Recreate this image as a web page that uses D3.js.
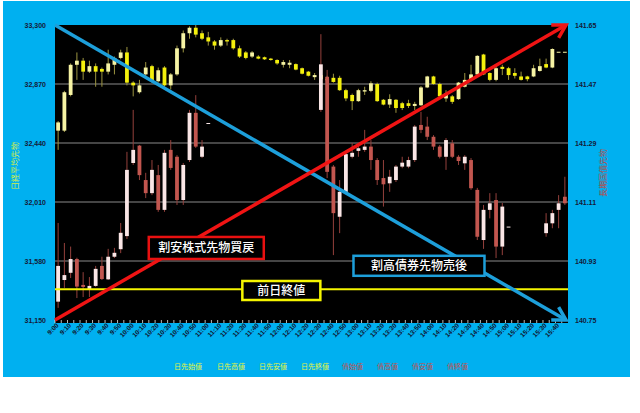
<!DOCTYPE html>
<html>
<head>
<meta charset="utf-8">
<script src="https://cdn.jsdelivr.net/npm/d3@7"></script>
<style>
  body { margin: 0; background: #fff; }
  svg text { font-family: "Liberation Sans", Arial, sans-serif; }
  svg .jp { font-family: "Noto Sans CJK JP", "Noto Sans", sans-serif; }
</style>
</head>
<body>
<div id="chart"></div>
<script>
// 5-minute bars
const times = ["9:00","9:05","9:10","9:15","9:20","9:25","9:30","9:35","9:40","9:45",
  "9:50","9:55","10:00","10:05","10:10","10:15","10:20","10:25","10:30","10:35",
  "10:40","10:45","10:50","10:55","11:00","11:05","11:10","11:15","11:20","11:25",
  "11:30","11:35","11:40","11:45","11:50","11:55","12:00","12:05","12:10","12:15",
  "12:20","12:25","12:30","12:35","12:40","12:45","12:50","12:55","13:00","13:05",
  "13:10","13:15","13:20","13:25","13:30","13:35","13:40","13:45","13:50","13:55",
  "14:00","14:05","14:10","14:15","14:20","14:25","14:30","14:35","14:40","14:45",
  "14:50","14:55","15:00","15:05","15:10","15:15","15:20","15:25","15:30","15:35",
  "15:40","15:45"];

// Nikkei 225 futures (left axis)
const nkOpen = [32530,32530,32790,33010,33040,32960,33000,32980,32960,33010,
  33060,33100,32880,32810,32940,33000,32890,32990,32860,32940,
  33130,33240,33280,33240,33210,33180,33150,33190,33190,33130,
  33100,33070,33070,33065,33055,33045,33010,33010,33015,32985,
  32960,32920,32935,32905,32915,32915,32825,32790,32745,32815,
  32820,32870,32755,32720,32755,32730,32730,32710,32715,32845,
  32925,32870,32765,32780,32760,32850,32900,32940,33085,32950,
  32900,32995,32985,32950,32925,32925,32925,32965,33015,32990,
  33105,33105];
const nkHigh = [32600,32820,33020,33100,33060,33040,33020,32990,33120,33070,
  33120,33140,32890,32900,33030,33010,32990,33000,32950,33150,
  33260,33290,33300,33260,33250,33190,33210,33200,33200,33150,
  33110,33110,33080,33070,33060,33050,33045,33045,33020,32990,
  32965,32950,32955,32930,32945,32930,32835,32800,32835,32850,
  32890,32880,32760,32795,32760,32740,32755,32740,32855,32930,
  32930,32880,32825,32790,32885,32950,33010,33080,33090,32955,
  33015,33010,32995,32985,32960,32930,33010,33055,33055,33130,
  33105,33105];
const nkLow = [32390,32520,32780,32900,32900,32950,32850,32850,32940,32940,
  33050,32860,32780,32800,32920,32880,32880,32850,32830,32930,
  33100,33200,33210,33190,33150,33120,33140,33150,33120,33060,
  33050,33060,33050,33045,33040,33010,32990,32985,32970,32940,
  32925,32900,32885,32870,32880,32820,32745,32680,32740,32790,
  32810,32740,32715,32695,32660,32680,32695,32680,32710,32840,
  32865,32775,32740,32725,32755,32845,32890,32935,32935,32890,
  32890,32935,32900,32910,32895,32890,32920,32960,32985,32985,
  33105,33105];
const nkClose = [32590,32810,33010,33040,32960,33000,32960,32960,33020,33060,
  33100,32880,32860,32860,32990,32890,32970,32860,32940,33130,
  33240,33280,33230,33200,33180,33150,33190,33180,33130,33070,
  33060,33100,33055,33050,33045,33020,33030,33025,32975,32945,
  32930,32935,32905,32900,32885,32825,32765,32745,32825,32825,
  32875,32745,32720,32760,32695,32695,32710,32725,32845,32925,
  32870,32780,32800,32740,32880,32900,32940,33075,32940,32900,
  32985,32980,32935,32930,32900,32905,32985,33000,32990,33125,
  33105,33105];

// JGB futures (right axis), null while the market is closed
const jgbOpen = [140.806,140.872,140.894,140.936,140.857,140.842,140.854,140.915,140.874,140.943,
  140.966,141.006,141.229,141.282,141.177,141.137,141.192,141.086,141.269,141.248,
  141.116,141.238,141.382,141.248,141.351,null,null,null,null,null,
  null,null,null,null,null,null,null,null,null,null,
  null,null,141.391,141.492,141.218,141.065,141.141,141.248,141.266,141.269,
  141.279,141.238,141.183,141.167,141.177,141.218,141.218,141.238,141.345,141.340,
  141.309,141.279,141.248,141.289,141.248,141.228,141.238,141.147,140.994,141.086,
  141.116,140.974,141.035,null,null,null,null,null,141.015,141.045,
  141.086,141.126];
const jgbHigh = [141.046,140.985,140.974,140.940,140.896,140.881,140.915,140.943,140.967,140.970,
  141.046,141.263,141.391,141.284,141.199,141.238,141.223,141.269,141.299,141.253,
  141.229,141.391,141.436,141.299,141.351,null,null,null,null,null,
  null,null,null,null,null,null,null,null,null,null,
  null,null,141.622,141.513,141.223,141.177,141.263,141.290,141.290,141.330,
  141.299,141.244,141.238,141.208,141.223,141.248,141.248,141.345,141.385,141.370,
  141.314,141.284,141.305,141.299,141.253,141.253,141.244,141.153,141.101,141.137,
  141.137,141.107,141.035,null,null,null,null,null,141.076,141.086,
  141.131,141.187];
const jgbLow = [140.787,140.848,140.878,140.817,140.820,140.820,140.851,140.872,140.872,140.939,
  140.954,140.997,141.223,141.177,141.122,141.131,141.080,141.080,141.208,141.101,
  141.101,141.232,141.275,141.244,141.351,null,null,null,null,null,
  null,null,null,null,null,null,null,null,null,null,
  null,null,141.385,141.183,140.948,141.015,141.137,141.243,141.248,141.263,
  141.208,141.162,141.096,141.141,141.171,141.213,141.213,141.232,141.320,141.299,
  141.269,141.243,141.208,141.244,141.223,141.208,141.147,140.994,140.967,141.060,
  140.939,140.948,141.035,null,null,null,null,null,141.004,141.030,
  141.030,141.101];
const jgbClose = [140.915,140.887,140.936,140.852,140.851,140.854,140.906,140.875,140.943,140.955,
  141.016,141.208,141.269,141.192,141.137,141.208,141.086,141.260,141.214,141.116,
  141.223,141.382,141.279,141.279,141.351,null,null,null,null,null,
  null,null,null,null,null,null,null,null,null,null,
  null,null,141.530,141.202,141.076,141.141,141.256,141.260,141.274,141.279,
  141.238,141.177,141.164,141.187,141.218,141.230,141.238,141.340,141.330,141.309,
  141.279,141.248,141.299,141.248,141.235,141.248,141.152,141.004,141.086,141.106,
  140.974,141.096,141.035,null,null,null,null,null,141.045,141.076,
  141.106,141.106];

const leftTicks = [31150, 31580, 32010, 32440, 32870, 33300];
const rightTicks = [140.75, 140.93, 141.11, 141.29, 141.47, 141.65];
const prevClose = 31375;   // 前日終値
const legendNk = ["日先始値", "日先高値", "日先安値", "日先終値"];
const legendJgb = ["債始値", "債高値", "債安値", "債終値"];

const W = 640, H = 413;
const plot = { left: 55, right: 568, top: 25, bottom: 320 };

const svg = d3.select("#chart").append("svg")
    .attr("width", W)
    .attr("height", H);

// backgrounds
svg.append("rect").attr("x", 3).attr("y", 1).attr("width", 627).attr("height", 376)
    .attr("fill", "#00b0f0");
svg.append("rect").attr("x", plot.left).attr("y", plot.top)
    .attr("width", plot.right - plot.left).attr("height", plot.bottom - plot.top + 3)
    .attr("fill", "#000");

// scales
const x = d3.scaleBand().domain(times).range([plot.left, plot.right]);
const yL = d3.scaleLinear().domain([31150, 33300]).range([plot.bottom, plot.top]);
const yR = d3.scaleLinear().domain([140.75, 141.65]).range([plot.bottom, plot.top]);
const bw = x.bandwidth();
const cx = t => x(t) + bw / 2;

// gridlines
svg.append("g").selectAll("line")
    .data(leftTicks.slice(1, -1))
    .enter().append("line")
    .attr("x1", plot.left).attr("x2", plot.right)
    .attr("y1", d => yL(d)).attr("y2", d => yL(d))
    .attr("stroke", "#8a8a8a").attr("stroke-width", 1);

// left axis
const leftAxis = svg.append("g")
    .attr("transform", "translate(" + plot.left + ",0)")
    .call(d3.axisLeft(yL).tickValues(leftTicks).tickFormat(d3.format(",")).tickSize(0).tickPadding(9));
leftAxis.select(".domain").remove();
leftAxis.selectAll("text").attr("fill", "#151a38").style("font-size", "7px").style("font-weight", "bold");

// right axis
const rightAxis = svg.append("g")
    .attr("transform", "translate(" + plot.right + ",0)")
    .call(d3.axisRight(yR).tickValues(rightTicks).tickFormat(d3.format(".2f")).tickSize(0).tickPadding(7));
rightAxis.select(".domain").remove();
rightAxis.selectAll("text").attr("fill", "#151a38").style("font-size", "7px").style("font-weight", "bold");

// x axis: ticks between categories, label every other bar
svg.append("g").selectAll("line")
    .data(times)
    .enter().append("line")
    .attr("x1", d => x(d)).attr("x2", d => x(d))
    .attr("y1", plot.bottom).attr("y2", plot.bottom + 3)
    .attr("stroke", "#e8e8e8").attr("stroke-width", 0.8);
svg.append("g").selectAll("text")
    .data(times.filter((d, i) => i % 2 === 0))
    .enter().append("text")
    .attr("transform", d => "translate(" + (cx(d) + 1) + "," + (plot.bottom + 6) + ") rotate(-45)")
    .attr("text-anchor", "end")
    .attr("fill", "#10152e")
    .style("font-size", "6.5px")
    .style("font-weight", "bold")
    .text(d => d);

// candles
function drawCandles(opens, highs, lows, closes, y, upFill, downFill, wickColor) {
    const bars = times.map((t, i) => ({ t: t, o: opens[i], h: highs[i], l: lows[i], c: closes[i] }))
        .filter(d => d.o !== null);
    const g = svg.append("g");
    g.selectAll(".wick")
        .data(bars)
        .enter().append("line")
        .attr("x1", d => cx(d.t)).attr("x2", d => cx(d.t))
        .attr("y1", d => y(d.h)).attr("y2", d => y(d.l))
        .attr("stroke", wickColor).attr("stroke-width", 1);
    g.selectAll(".body")
        .data(bars)
        .enter().append("rect")
        .attr("x", d => cx(d.t) - 1.9)
        .attr("width", 3.8)
        .attr("y", d => y(Math.max(d.o, d.c)))
        .attr("height", d => Math.max(1, Math.abs(y(d.o) - y(d.c))))
        .attr("fill", d => d.c >= d.o ? upFill : downFill);
}
drawCandles(nkOpen, nkHigh, nkLow, nkClose, yL, "#f6f3a4", "#f4f00c", "#9c9440");
drawCandles(jgbOpen, jgbHigh, jgbLow, jgbClose, yR, "#fae6e6", "#c2564f", "#94403c");

// previous close line
svg.append("line")
    .attr("x1", plot.left).attr("x2", plot.right)
    .attr("y1", yL(prevClose)).attr("y2", yL(prevClose))
    .attr("stroke", "#f5f500").attr("stroke-width", 2);

// arrows
function arrow(x1, y1, x2, y2, color) {
    const g = svg.append("g");
    g.append("line")
        .attr("x1", x1).attr("y1", y1).attr("x2", x2).attr("y2", y2)
        .attr("stroke", color).attr("stroke-width", 3.5);
    const a = Math.atan2(y2 - y1, x2 - x1);
    const len = 13, spread = Math.PI / 6;
    const p1 = [x2 - len * Math.cos(a - spread), y2 - len * Math.sin(a - spread)];
    const p2 = [x2 - len * Math.cos(a + spread), y2 - len * Math.sin(a + spread)];
    g.append("path")
        .attr("d", "M" + p1 + "L" + x2 + "," + y2 + "L" + p2)
        .attr("fill", "none").attr("stroke", color).attr("stroke-width", 3.5)
        .attr("stroke-linejoin", "miter").attr("stroke-linecap", "square");
}
const xStart = plot.left, xEnd = plot.right - 2;
arrow(xStart, yL(33300), xEnd, yL(31150), "#1d9fda");
arrow(xStart, yL(31150), xEnd, yL(33300), "#f01414");

// annotation boxes
const notes = [
    { text: "割安株式先物買戻", t: "11:00", v: 31675, w: 115, h: 22, color: "#e81010" },
    { text: "割高債券先物売後", t: "13:50", v: 31545, w: 131, h: 20, color: "#1d9fda" },
    { text: "前日終値", t: "12:00", v: 31365, w: 78, h: 19, color: "#f5f500" }
];
const ng = svg.append("g").selectAll("g")
    .data(notes)
    .enter().append("g")
    .attr("transform", d => "translate(" + (cx(d.t) - 2) + "," + yL(d.v) + ")");
ng.append("rect")
    .attr("x", d => -d.w / 2).attr("y", d => -d.h / 2)
    .attr("width", d => d.w).attr("height", d => d.h)
    .attr("fill", "#000").attr("stroke", d => d.color).attr("stroke-width", 2.5);
ng.append("text")
    .attr("class", "jp")
    .attr("text-anchor", "middle")
    .attr("dy", "0.36em")
    .attr("fill", "#fff")
    .style("font-size", "12px")
    .style("font-weight", "500")
    .text(d => d.text);

// axis titles
svg.append("text")
    .attr("class", "jp")
    .attr("transform", "translate(18,166) rotate(-90)")
    .attr("text-anchor", "middle")
    .attr("fill", "#d4ee48")
    .style("font-size", "8px")
    .text("日経平均先物");
svg.append("text")
    .attr("class", "jp")
    .attr("transform", "translate(606,173) rotate(-90)")
    .attr("text-anchor", "middle")
    .attr("fill", "#b84a45")
    .style("font-size", "8px")
    .text("長期国債先物");

// legend
const legendX = [174, 217, 259, 301, 342, 377, 412, 447];
const legendItems = legendNk.map(d => ({ text: d, color: "#e4f43c" }))
    .concat(legendJgb.map(d => ({ text: d, color: "#c0504d" })));
svg.append("g").selectAll("text")
    .data(legendItems)
    .enter().append("text")
    .attr("class", "jp")
    .attr("x", (d, i) => legendX[i])
    .attr("y", 369)
    .attr("fill", d => d.color)
    .style("font-size", "7px")
    .text(d => d.text);
</script>
</body>
</html>
